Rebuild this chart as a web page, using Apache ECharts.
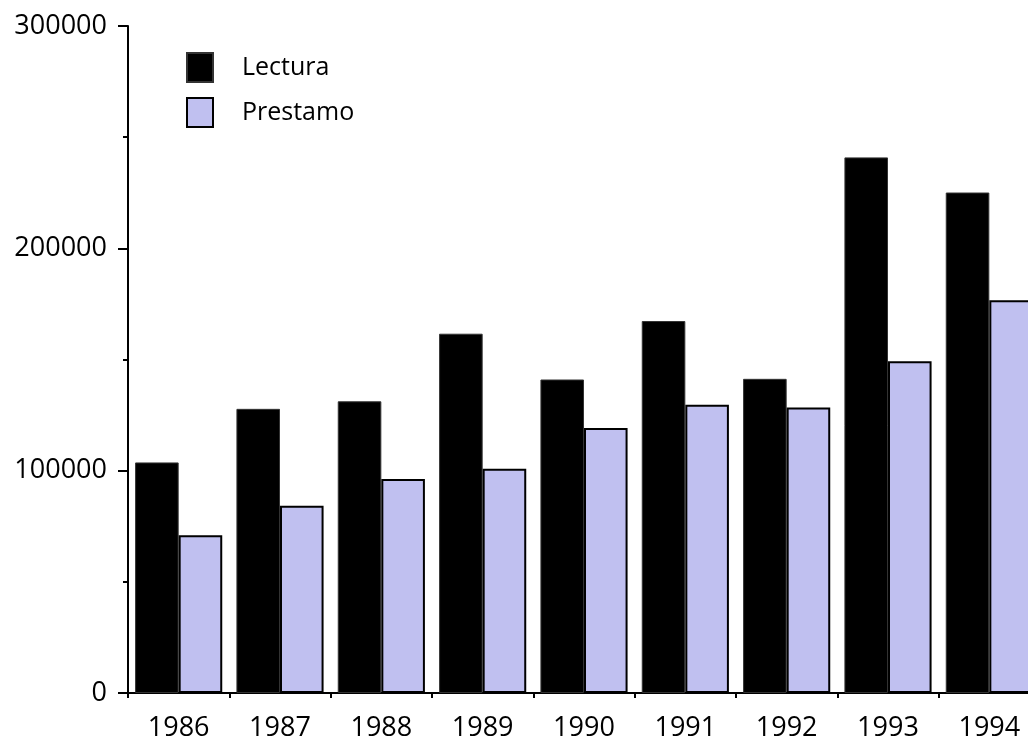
<!DOCTYPE html>
<html>
<head>
<meta charset="utf-8">
<script src="https://cdn.jsdelivr.net/npm/echarts@6/dist/echarts.min.js"></script>
<style>
html,body{margin:0;padding:0;background:#fff;}
#chart{width:1028px;height:742px;}
</style>
</head>
<body>
<div id="chart"></div>
<script>
const years = ['1986','1987','1988','1989','1990','1991','1992','1993','1994'];
const lectura = [103700, 127800, 131200, 161600, 141000, 167300, 141300, 240900, 225100];
const prestamo = [71000, 84200, 96300, 100900, 119200, 129700, 128400, 149200, 176700];
const yTicks = [0, 100000, 200000, 300000];

const font = 'Open Sans';
const fs = 27;
const chart = echarts.init(document.getElementById('chart'), null, {renderer: 'canvas'});
chart.setOption({
  animation: false,
  backgroundColor: '#ffffff',
  grid: {left: 128, right: -12, top: 26, bottom: 49, containLabel: false, outerBoundsMode: 'none'},
  legend: {
    orient: 'vertical',
    left: 186, top: 52, padding: 0,
    itemWidth: 26, itemHeight: 29, itemGap: 14,
    icon: 'rect',
    textStyle: {fontFamily: font, fontSize: 25, color: '#000', padding: [0,0,0,24]},
    data: ['Lectura', 'Prestamo']
  },
  xAxis: {
    type: 'category',
    data: years,
    axisLine: {lineStyle: {color: '#000', width: 2}},
    axisTick: {show: true, length: 5, lineStyle: {color: '#000', width: 2}},
    axisLabel: {fontFamily: font, fontSize: fs, color: '#000', margin: 22}
  },
  yAxis: {
    type: 'value',
    min: 0, max: yTicks[yTicks.length-1], interval: 100000,
    splitLine: {show: false},
    axisLine: {show: true, lineStyle: {color: '#000', width: 2}},
    axisTick: {show: true, length: 10, lineStyle: {color: '#000', width: 2}},
    minorTick: {show: true, splitNumber: 2, length: 5, lineStyle: {color: '#000', width: 2}},
    axisLabel: {fontFamily: font, fontSize: fs, color: '#000', margin: 21, formatter: v => String(v)}
  },
  series: [
    {
      name: 'Lectura', type: 'bar', data: lectura,
      barGap: '0%', barCategoryGap: '14%',
      itemStyle: {color: '#000000', borderColor: '#333', borderWidth: 1}
    },
    {
      name: 'Prestamo', type: 'bar', data: prestamo,
      barGap: '0%', barCategoryGap: '14%',
      itemStyle: {color: '#C0C0F0', borderColor: '#000', borderWidth: 2}
    }
  ]
});
</script>
</body>
</html>
